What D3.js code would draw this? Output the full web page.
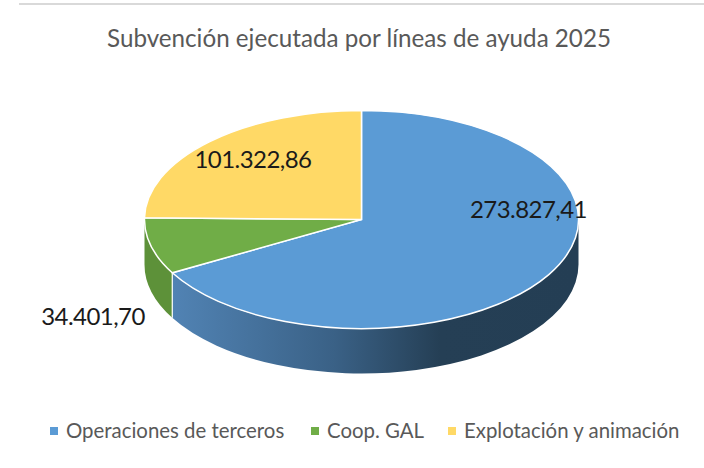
<!DOCTYPE html>
<html>
  <head>
    <meta charset="utf-8">
    <script src="https://d3js.org/d3.v7.min.js"></script>
    <title>Subvención ejecutada</title>
    <style>
      body { margin: 0px; background: white; }
      text { font-family: Lato, 'Open Sans', sans-serif; }
      .title { fill: #595959; font-size: 24.2px; text-anchor: middle; }
      .value { fill: #1a1a1a; font-size: 24px; letter-spacing: -0.55px; text-anchor: middle; }
      .legend-label { fill: #595959; font-size: 20.4px; }
    </style>
  </head>
  <body>
    <div id="graph"></div>
    <script>
      const titleText = 'Subvención ejecutada por líneas de ayuda 2025';
      const categories = ['Operaciones de terceros', 'Coop. GAL', 'Explotación y animación'];
      const values = [273827.41, 34401.70, 101322.86];
      const valueLabels = ['273.827,41', '34.401,70', '101.322,86'];
      const colors = ['#5b9bd5', '#70ad47', '#ffd966'];

      // layout
      const width = 704, height = 468;
      const cx = 361.5, cy = 219.5, rx = 217, ry = 109, depth = 45;
      const labelX = [528.5, 93, 253];
      const labelY = [217.5, 324.5, 168];
      const legendX = [50, 311, 448];

      const svg = d3.select('#graph').append('svg')
        .attr('width', width)
        .attr('height', height)
        .style('display', 'block');

      const defs = svg.append('defs');
      const wallBlue = defs.append('linearGradient')
        .attr('id', 'wall0')
        .attr('gradientUnits', 'userSpaceOnUse')
        .attr('x1', 172).attr('x2', 578).attr('y1', 0).attr('y2', 0);
      wallBlue.append('stop').attr('offset', 0).attr('stop-color', '#5183b4');
      wallBlue.append('stop').attr('offset', 0.4).attr('stop-color', '#3a6186');
      wallBlue.append('stop').attr('offset', 0.66).attr('stop-color', '#253f55');
      wallBlue.append('stop').attr('offset', 1).attr('stop-color', '#243e54');

      const wallFill = ['url(#wall0)', '#5d9139', '#c09f40'];

      // top rule
      svg.append('rect')
        .attr('x', 19).attr('y', 3)
        .attr('width', width - 19).attr('height', 2)
        .attr('fill', '#d9d9d9');

      svg.append('text')
        .attr('class', 'title')
        .attr('x', 359)
        .attr('y', 47)
        .text(titleText);

      const pie = d3.pie().sort(null)(values);

      const px = a => cx + rx * Math.sin(a);
      const py = a => cy - ry * Math.cos(a);

      // side walls, only the front half of the disc shows
      const g = svg.append('g');
      pie.forEach((d, i) => {
        const a0 = Math.max(d.startAngle, Math.PI / 2);
        const a1 = Math.min(d.endAngle, Math.PI * 1.5);
        if (a1 <= a0) return;
        const large = a1 - a0 > Math.PI ? 1 : 0;
        const path = `M${px(a0)},${py(a0)}`
          + `A${rx},${ry} 0 ${large} 1 ${px(a1)},${py(a1)}`
          + `L${px(a1)},${py(a1) + depth}`
          + `A${rx},${ry} 0 ${large} 0 ${px(a0)},${py(a0) + depth}Z`;
        g.append('path').attr('d', path).attr('fill', wallFill[i]);
      });

      // white line between the green and blue walls
      const edge = pie[0].endAngle;
      g.append('line')
        .attr('x1', px(edge)).attr('x2', px(edge))
        .attr('y1', py(edge)).attr('y2', py(edge) + depth)
        .attr('stroke', 'white')
        .attr('stroke-width', 1.2);

      // top face
      const arc = d3.arc().innerRadius(0).outerRadius(1);
      svg.append('g')
        .attr('transform', `translate(${cx},${cy}) scale(${rx},${ry})`)
        .selectAll('path').data(pie)
        .enter().append('path')
          .attr('d', arc)
          .attr('fill', (d, i) => colors[i])
          .attr('stroke', 'white')
          .attr('stroke-width', 1.5)
          .attr('vector-effect', 'non-scaling-stroke');

      svg.selectAll('text.value').data(valueLabels)
        .enter().append('text')
          .attr('class', 'value')
          .attr('x', (d, i) => labelX[i])
          .attr('y', (d, i) => labelY[i])
          .text(d => d);

      const legend = svg.selectAll('g.legend').data(categories)
        .enter().append('g')
          .attr('class', 'legend')
          .attr('transform', (d, i) => `translate(${legendX[i]},431)`);
      legend.append('rect')
        .attr('x', 0).attr('y', -4)
        .attr('width', 8).attr('height', 8)
        .attr('fill', (d, i) => colors[i]);
      legend.append('text')
        .attr('class', 'legend-label')
        .attr('x', 16)
        .attr('y', 7)
        .text(d => d);
    </script>
  </body>
</html>
